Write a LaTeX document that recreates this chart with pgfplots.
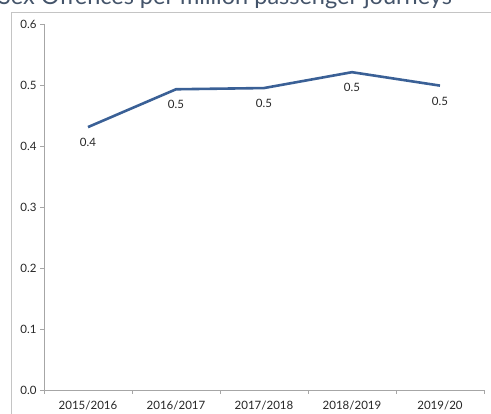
\documentclass[border=0pt]{standalone}
\usepackage{pgfplots}
\pgfplotsset{compat=1.18}
\usepackage{fontspec}
\setmainfont{Lato}
\definecolor{linec}{HTML}{3A6096}
\definecolor{axc}{HTML}{A6A6A6}
\definecolor{framec}{HTML}{C4C4C4}
\definecolor{titlec}{HTML}{44546A}
\definecolor{textc}{HTML}{262626}
\begin{document}
\begin{tikzpicture}[x=1pt,y=1pt]
\useasboundingbox (0,0) rectangle (491,414);
\draw[framec, line width=0.9pt] (11.5,0) -- (11.5,402) -- (491,402);
\node[anchor=base west, text=titlec, font=\fontsize{23.5}{28}\selectfont, inner sep=0pt] at (-2,409) {Sex Offences per million passenger journeys};
\begin{axis}[
  at={(44pt,24pt)}, anchor=south west,
  scale only axis, width=440pt, height=366pt,
  xmin=-0.5, xmax=4.5, ymin=0, ymax=0.6,
  axis x line*=bottom, axis y line*=left,
  axis line style={axc, line width=0.8pt},
  xtick={-0.5,0.5,1.5,2.5,3.5,4.5},
  xticklabels={2015/2016,2016/2017,2017/2018,2018/2019,2019/20},
  x tick label as interval,
  ytick={0,0.1,0.2,0.3,0.4,0.5,0.6},
  tick align=outside,
  every tick/.style={axc, line width=0.8pt},
  major tick length=4pt,
  xticklabel style={font=\fontsize{11.5}{13}\selectfont, text=textc, yshift=-4pt},
  yticklabel style={font=\fontsize{11.5}{13}\selectfont, text=textc, /pgf/number format/fixed, /pgf/number format/fixed zerofill, /pgf/number format/precision=1},
  /pgf/number format/assume math mode=true,
  clip=false,
]
\addplot[linec, line width=2.6pt, mark=none,
  nodes near coords={\pgfmathprintnumber[fixed,fixed zerofill,precision=1,assume math mode=true]{\pgfplotspointmeta}},
  every node near coord/.style={anchor=center, yshift=-15.5pt, font=\fontsize{11.5}{13}\selectfont, text=textc, inner sep=0pt},
] coordinates {(0,0.431) (1,0.493) (2,0.495) (3,0.521) (4,0.499)};
\end{axis}
\end{tikzpicture}
\end{document}
